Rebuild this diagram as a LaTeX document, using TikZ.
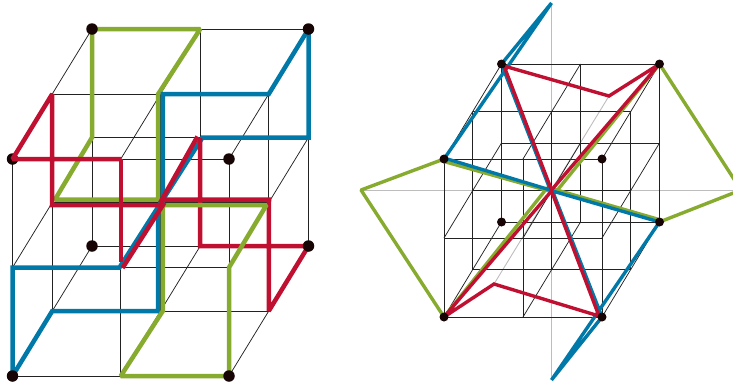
\documentclass[tikz,border=0pt]{standalone}
\definecolor{cgreen}{HTML}{86AB2E}
\definecolor{cblue}{HTML}{0079A8}
\definecolor{cred}{HTML}{C01031}
\definecolor{cdot}{HTML}{170505}
\definecolor{cgrid}{HTML}{222222}
\definecolor{caxis}{HTML}{BDBDBD}
\tikzset{
  gridline/.style={draw=cgrid,line width=0.75bp},
  axisline/.style={draw=caxis,line width=0.9bp},
  thickG/.style={draw=cgreen,line width=4.5bp,miter limit=1.5},
  thickB/.style={draw=cblue,line width=4.5bp,miter limit=1.5},
  thickR/.style={draw=cred,line width=4.5bp,miter limit=1.5},
  thinG/.style={draw=cgreen,line width=3.4bp,miter limit=1.5},
  thinB/.style={draw=cblue,line width=3.4bp,miter limit=1.5},
  thinR/.style={draw=cred,line width=3.4bp,miter limit=1.5},
  bigdot/.style={circle,fill=cdot,inner sep=0pt,minimum size=11.5bp},
  smalldot/.style={circle,fill=cdot,inner sep=0pt,minimum size=9bp},
}
\begin{document}
\begin{tikzpicture}[x=1bp,y=-1bp]
\useasboundingbox (0,0) rectangle (733,385);
\clip (0,0) rectangle (733,385);
\foreach \i in {0,1,2}\foreach \j in {0,1,2}\foreach \k in {0,1,2}{
  \coordinate (L\i\j\k) at ({12.5+108.25*\i+39.75*\j},{376-108.5*\k-65*\j});
  \coordinate (R\i\j\k) at ({444+79*\i+28.75*\j},{317-79*\k-47.5*\j});
}
% ---------- left cube ----------
\foreach \a in {0,1,2}\foreach \b in {0,1,2}{
  \draw[gridline] (L0\a\b) -- (L2\a\b);
  \draw[gridline] (L\a0\b) -- (L\a2\b);
  \draw[gridline] (L\a\b0) -- (L\a\b2);
}
% green, upper loop
\draw[thickG] (L022) -- (L122) -- (158.2,94) -- (158.2,199.5) -- (55,199.5) -- (L021) -- cycle;
% blue
\draw[thickB] (L222) -- (L212) -- (162.8,94) -- (162.8,205);
\draw[thickB] (L222) -- (L221) -- (202.5,137.5) -- (119.5,267.5) -- (L001) -- (L000) -- (L010) -- (158.2,311) -- (158.2,203);
% dot under red
\node[bigdot] (d1) at (L002) {};
% red, right loop
\draw[thickR] (160,199.5) -- (269,199.5) -- (L210) -- (L220) -- (200.2,246) -- (200.2,138);
% green, lower loop
\draw[thickG] (266.5,205) -- (L201) -- (L200) -- (L100) -- (162.8,311) -- (162.8,205) -- cycle;
% red, left loop and diagonal
\draw[thickR] (121,159) -- (L002) -- (L012) -- (52,205) -- (164,205);
\draw[thickR] (121,159) -- (121,262);
\draw[thickR] (197.5,136.5) -- (160,203);
\draw[thickR] (164.5,202.5) -- (122.5,268);
% dots
\foreach \n in {L022,L222,L202,L020,L220,L000,L200}{\node[bigdot] at (\n) {};}
% ---------- right cube ----------
\draw[axisline] (361,190) -- (741,190);
\draw[axisline] (551.5,3) -- (551.5,380);
\draw[axisline] (609,96) -- (494,284);
\foreach \a in {0,1,2}\foreach \b in {0,1,2}{
  \draw[gridline] (R0\a\b) -- (R2\a\b);
  \draw[gridline] (R\a0\b) -- (R\a2\b);
  \draw[gridline] (R\a\b0) -- (R\a\b2);
}
% green
\draw[thinG] (R002) -- (361,190) -- (R000) -- (547.5,187.5);
\draw[thinG] (444,161.5) -- (551,191.5);
\draw[thinG] (R222) -- (741,190) -- (R220);
\draw[thinG] (659,219.5) -- (551.5,188.5);
\draw[thinG] (R222) -- (555.5,192.5);
% blue
\draw[thinB] (R002) -- (551.5,3) -- (R022) -- (550.3,190) -- (444,158) ;
\draw[thinB] (R220) -- (551.5,380) -- (R200) -- (552.5,191) -- (R220);
% red
\draw[thinR] (504,66) -- (609,96) -- (R222) -- (551.5,190) -- cycle;
\draw[thinR] (R000) -- (494,284) -- (599,316) -- (551.5,191) -- cycle;
% dots
\foreach \n in {R002,R022,R222,R202,R020,R220,R000,R200}{\node[smalldot] at (\n) {};}
\end{tikzpicture}
\end{document}
